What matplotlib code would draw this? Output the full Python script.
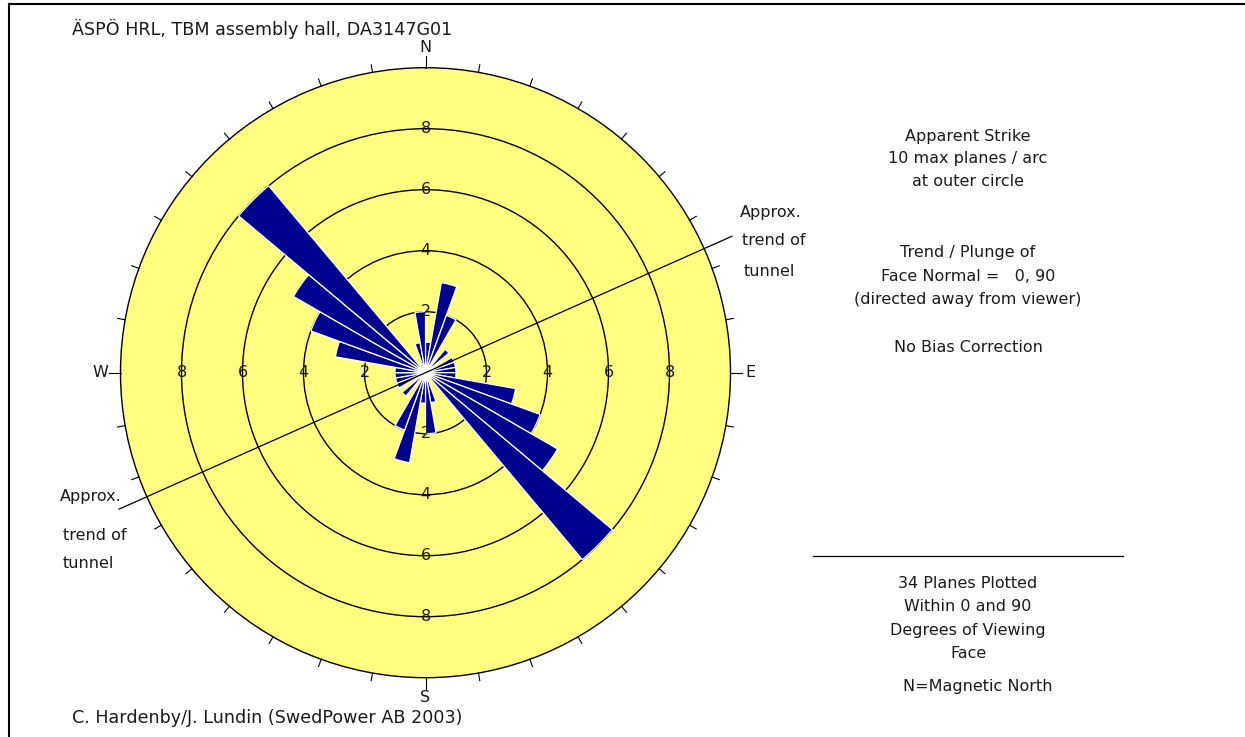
import numpy as np
import matplotlib
matplotlib.use("Agg")
import matplotlib.pyplot as plt
from matplotlib.lines import Line2D

# strike counts per 10 degree bin (0-180), mirrored for the other half
bin_start = np.arange(0, 180, 10)
counts = [1, 3, 2, 0, 1, 0, 1, 1, 1, 1, 3, 4, 5, 8, 0, 0, 1, 2]
rings = [2, 4, 6, 8]
tunnel_trend = 66

title = "ÄSPÖ HRL, TBM assembly hall, DA3147G01"
footer = "C. Hardenby/J. Lundin (SwedPower AB 2003)"
info_top = ["Apparent Strike", "10 max planes / arc", "at outer circle"]
info_mid = ["Trend / Plunge of", "Face Normal =   0, 90", "(directed away from viewer)"]
info_bias = "No Bias Correction"
info_bottom = ["34 Planes Plotted", "Within 0 and 90", "Degrees of Viewing", "Face"]
north_note = "N=Magnetic North"

W, H = 1245, 737
FS = 11.5
YELLOW = "#FFFF80"
NAVY = "#00008F"

plt.rcParams['font.family'] = ['DejaVu Sans']

fig = plt.figure(figsize=(W / 100, H / 100), dpi=100)
fig.patch.set_facecolor("white")


def ftext(x, y, s, size=FS, **kw):
    fig.text(x / W, 1 - y / H, s, fontsize=size, color="#1a1a1a", **kw)


# polar axes: centre (425.5, 372.7) px, radius 305 px
cx, cy, R = 425.5, 372.7, 305
ax = fig.add_axes([(cx - R) / W, 1 - (cy + R) / H, 2 * R / W, 2 * R / H],
                  projection="polar")
ax.set_theta_zero_location("N")
ax.set_theta_direction(-1)
ax.set_facecolor(YELLOW)
ax.set_rlim(0, 10)
ax.set_rgrids(rings, labels=[])
ax.set_thetagrids([], labels=[])
ax.grid(True, color="black", linewidth=1.0)
ax.xaxis.grid(False)
ax.spines["polar"].set_linewidth(1.0)

# petals (bidirectional)
theta = np.radians(np.concatenate([bin_start, bin_start + 180]) + 5)
vals = np.concatenate([counts, counts])
ax.bar(theta, vals, width=np.radians(10), color=NAVY, edgecolor="white",
       linewidth=0.9, zorder=3)

# tunnel trend line
t1, t2 = np.radians(tunnel_trend), np.radians(tunnel_trend + 180)
ax.plot([t2, t2, t1], [11.0, 0, 11.0], color="black", lw=0.9, zorder=4,
        clip_on=False)

# outer ticks
for d in range(0, 360, 10):
    r2 = 10.38 if d % 90 == 0 else 10.25
    ax.plot([np.radians(d)] * 2, [10, r2], color="black", lw=0.8,
            clip_on=False)

# ring labels along the cardinal axes
for d in (0, 90, 180, 270):
    for r in rings:
        ax.text(np.radians(d), r, str(r), ha="center", va="center",
                fontsize=FS, color="#1a1a1a", zorder=5)

for d, lab in zip((0, 90, 180, 270), ("N", "E", "S", "W")):
    ax.text(np.radians(d), 10.65, lab, ha="center", va="center",
            fontsize=FS, color="#1a1a1a", clip_on=False)

# frame lines
fig.add_artist(Line2D([8.5 / W, 8.5 / W], [0, 1 - 4 / H], color="black", lw=1.5))
fig.add_artist(Line2D([8.5 / W, 1], [1 - 4 / H, 1 - 4 / H], color="black", lw=1.5))

ftext(72, 29, title, size=12.6, ha="left", va="center")
ftext(72, 718, footer, size=12.6, ha="left", va="center")

# tunnel labels
for s, x, y in zip(["Approx.", "trend of", "tunnel"], [740, 742, 744], [213, 241, 271]):
    ftext(x, y, s, ha="left", va="center")
for s, x, y in zip(["Approx.", "trend of", "tunnel"], [60, 63, 63], [497, 535, 563]):
    ftext(x, y, s, ha="left", va="center")

for i, s in enumerate(info_top):
    ftext(968, 136 + 23 * i, s, ha="center", va="center")
for i, s in enumerate(info_mid):
    ftext(968, 253 + 23 * i, s, ha="center", va="center")
ftext(968, 347, info_bias, ha="center", va="center")

fig.add_artist(Line2D([813 / W, 1123 / W], [1 - 556 / H] * 2, color="black", lw=0.9))
for i, s in enumerate(info_bottom):
    ftext(968, 583 + 23.5 * i, s, ha="center", va="center")
ftext(978, 687, north_note, ha="center", va="center")

fig.savefig("out.png", dpi=100)
